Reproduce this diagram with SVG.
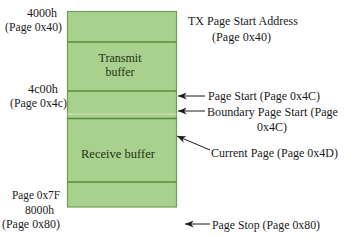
<svg xmlns="http://www.w3.org/2000/svg" width="350" height="236" viewBox="0 0 350 236">
<defs>
<style>
text{font-family:'Liberation Serif','Times New Roman','DejaVu Serif',serif;font-size:13px;fill:#1a1a1a}
.in{fill:#1f3312}
.div{stroke:#5a8a3e;stroke-width:1.3}
.lt{stroke:#cfe6bf;stroke-width:1}
.conn{stroke:#1a1a1a;stroke-width:1;fill:none}
</style>
<marker id="ah" viewBox="0 0 10 8" refX="10" refY="4" markerWidth="10" markerHeight="7" orient="auto" markerUnits="userSpaceOnUse">
<path d="M10,4 L0,0 L3,4 L0,8 Z" fill="#1a1a1a"/>
</marker>
</defs>
<rect width="350" height="236" fill="#ffffff"/>
<g id="buffer">
<rect x="67.5" y="11.5" width="109" height="195.5" fill="#a9d18e" stroke="#6f9e55" stroke-width="1.2"/>
<line class="div" x1="67.5" y1="42" x2="176.5" y2="42"/>
<line class="div" x1="67.5" y1="91" x2="176.5" y2="91"/>
<line class="lt" x1="67.5" y1="114" x2="176.5" y2="114"/>
<line class="div" x1="67.5" y1="118.5" x2="176.5" y2="118.5"/>
<line class="div" x1="67.5" y1="182" x2="176.5" y2="182"/>
</g>
<g id="transmit">
<text class="in" x="120" y="62" text-anchor="middle" textLength="43" lengthAdjust="spacingAndGlyphs">Transmit</text>
<text class="in" x="120" y="76" text-anchor="middle" textLength="29" lengthAdjust="spacingAndGlyphs">buffer</text>
</g>
<g id="receive">
<text class="in" x="118" y="158" text-anchor="middle" textLength="74" lengthAdjust="spacingAndGlyphs">Receive buffer</text>
</g>
<g id="left-labels">
<text x="27" y="17" textLength="30" lengthAdjust="spacingAndGlyphs">4000h</text>
<text x="5" y="31" textLength="57" lengthAdjust="spacingAndGlyphs">(Page 0x40)</text>
<text x="28" y="93" textLength="30" lengthAdjust="spacingAndGlyphs">4c00h</text>
<text x="10" y="107" textLength="57" lengthAdjust="spacingAndGlyphs">(Page 0x4c)</text>
<text x="12" y="199" textLength="48" lengthAdjust="spacingAndGlyphs">Page 0x7F</text>
<text x="25" y="214" textLength="29" lengthAdjust="spacingAndGlyphs">8000h</text>
<text x="2" y="228" textLength="58" lengthAdjust="spacingAndGlyphs">(Page 0x80)</text>
</g>
<g id="right-labels">
<text x="188" y="25" textLength="110" lengthAdjust="spacingAndGlyphs">TX Page Start Address</text>
<text x="212" y="41" textLength="59" lengthAdjust="spacingAndGlyphs">(Page 0x40)</text>
<text x="208" y="100" textLength="112" lengthAdjust="spacingAndGlyphs">Page Start (Page 0x4C)</text>
<text x="207" y="116" textLength="131" lengthAdjust="spacingAndGlyphs">Boundary Page Start (Page</text>
<text x="257" y="131" textLength="30" lengthAdjust="spacingAndGlyphs">0x4C)</text>
<text x="211" y="157" textLength="127" lengthAdjust="spacingAndGlyphs">Current Page (Page 0x4D)</text>
<text x="212" y="229" textLength="108" lengthAdjust="spacingAndGlyphs">Page Stop (Page 0x80)</text>
</g>
<g id="connectors">
<line class="conn" x1="205" y1="96" x2="178" y2="96" marker-end="url(#ah)"/>
<line class="conn" x1="205" y1="111" x2="178" y2="111" marker-end="url(#ah)"/>
<line class="conn" x1="210" y1="150" x2="177" y2="136" marker-end="url(#ah)"/>
<line class="conn" x1="210" y1="224" x2="185" y2="224" marker-end="url(#ah)"/>
</g>
</svg>
